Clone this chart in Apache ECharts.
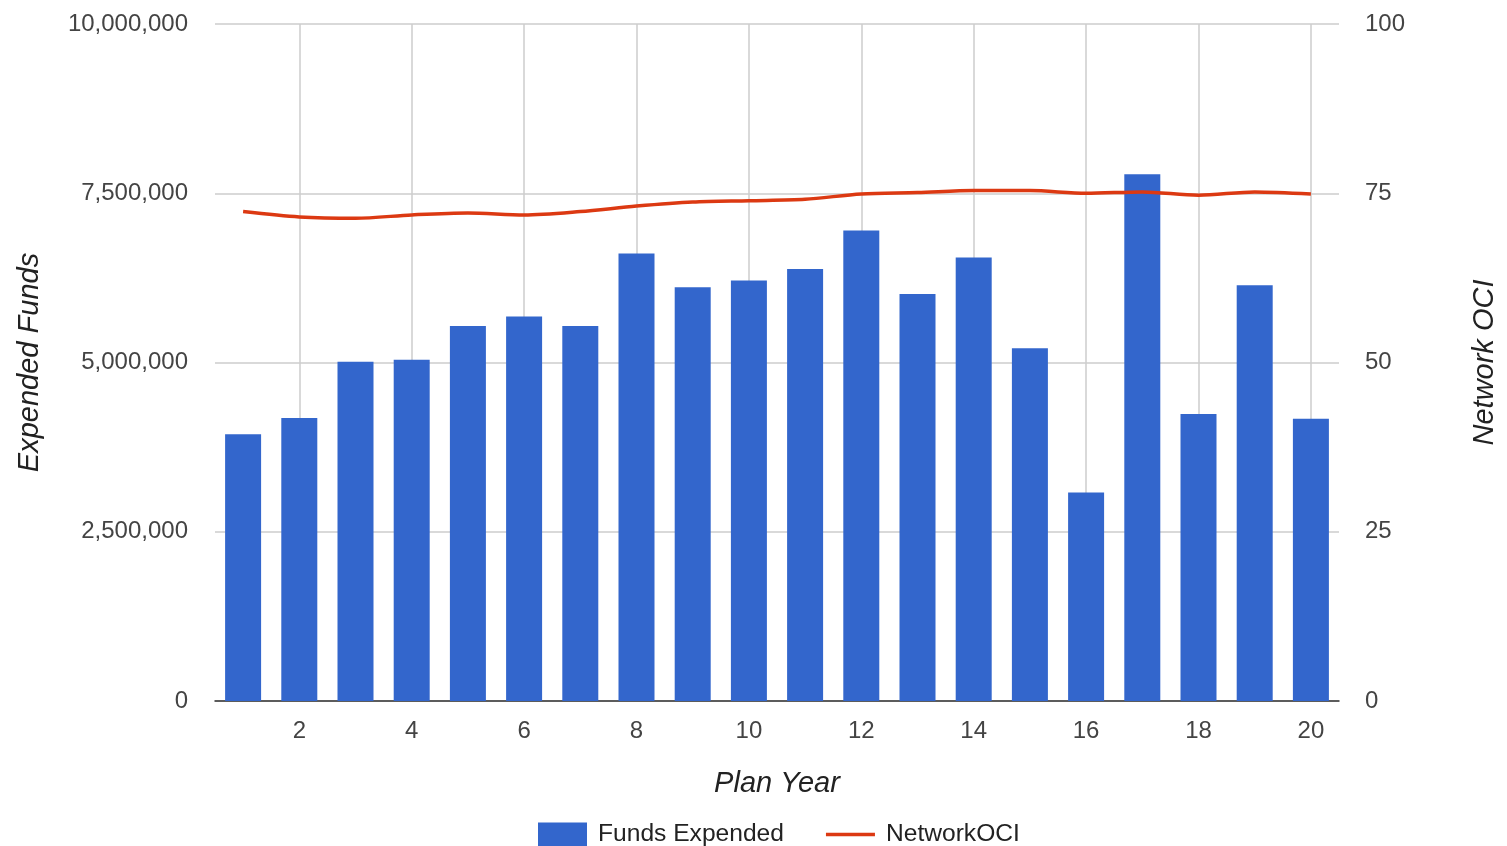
<!DOCTYPE html>
<html>
<head>
<meta charset="utf-8">
<title>Funds Expended and NetworkOCI by Plan Year</title>
<script src="https://cdn.jsdelivr.net/npm/echarts@6/dist/echarts.min.js"></script>
<style>
  html, body { margin: 0; padding: 0; background: #ffffff; overflow: hidden; }
  #chart { width: 1507px; height: 846px; }
</style>
</head>
<body>
<div id="chart"></div>
<script>
// Plan years (x positions of the bars and line points)
const planYears = [1, 2, 3, 4, 5, 6, 7, 8, 9, 10, 11, 12, 13, 14, 15, 16, 17, 18, 19, 20];

// Funds expended per plan year (left axis)
const fundsExpended = [
  3940000, 4180000, 5010000, 5040000, 5540000, 5680000, 5540000, 6610000, 6110000, 6210000,
  6380000, 6950000, 6010000, 6550000, 5210000, 3080000, 7780000, 4240000, 6140000, 4170000
];

// Network OCI per plan year (right axis)
const networkOCI = [
  72.3, 71.5, 71.3, 71.8, 72.1, 71.8, 72.3, 73.1, 73.7, 73.9,
  74.1, 74.9, 75.1, 75.4, 75.4, 75.0, 75.2, 74.7, 75.2, 74.9
];

// Tick values
const yearTicks = [2, 4, 6, 8, 10, 12, 14, 16, 18, 20];
const fundsTickStep = 2500000;
const fundsMax = 10000000;
const ociTickStep = 25;
const ociMax = 100;

const FONT = '"Liberation Sans", Arial, sans-serif';

const fundsPoints = planYears.map((y, i) => [y, fundsExpended[i]]);
const ociPoints = planYears.map((y, i) => [y, networkOCI[i]]);

const chart = echarts.init(document.getElementById('chart'), null, { renderer: 'canvas' });

chart.setOption({
  animation: false,
  backgroundColor: '#ffffff',
  textStyle: { fontFamily: FONT },
  grid: { left: 215, right: 162, top: 24, bottom: 145, containLabel: false },
  legend: {
    left: 538,
    top: 822,
    padding: 0,
    itemWidth: 49,
    itemHeight: 24,
    itemGap: 42,
    symbolKeepAspect: true,
    textStyle: { fontFamily: FONT, fontSize: 24.6, color: '#222222', padding: [0, 0, 0, 6] },
    data: [
      { name: 'Funds Expended', icon: 'rect' },
      { name: 'NetworkOCI', icon: 'path://M0,0L49,0L49,3.5L0,3.5Z' }
    ]
  },
  xAxis: {
    type: 'value',
    min: 0.5,
    max: 20.5,
    name: 'Plan Year',
    nameLocation: 'middle',
    nameGap: 68,
    nameTextStyle: { fontFamily: FONT, fontSize: 29, fontStyle: 'italic', color: '#222222' },
    axisLine: { show: true, onZero: false, lineStyle: { color: '#333333', width: 1.5 } },
    axisTick: { show: false, customValues: yearTicks },
    axisLabel: {
      customValues: yearTicks,
      fontFamily: FONT, fontSize: 24, color: '#444444', margin: 18
    },
    splitLine: { show: true, lineStyle: { color: '#cccccc', width: 1.5 } }
  },
  yAxis: [
    {
      type: 'value',
      min: 0,
      max: fundsMax,
      interval: fundsTickStep,
      name: 'Expended Funds',
      nameLocation: 'middle',
      nameRotate: 90,
      nameGap: 171,
      nameTextStyle: { fontFamily: FONT, fontSize: 29, fontStyle: 'italic', color: '#222222' },
      axisLine: { show: false },
      axisTick: { show: false },
      axisLabel: {
        fontFamily: FONT, fontSize: 24, color: '#444444', margin: 27,
        formatter: v => v.toLocaleString('en-US')
      },
      splitLine: { show: true, lineStyle: { color: '#cccccc', width: 1.5 } }
    },
    {
      type: 'value',
      min: 0,
      max: ociMax,
      interval: ociTickStep,
      position: 'right',
      name: 'Network OCI',
      nameLocation: 'middle',
      nameRotate: 90,
      nameGap: 131,
      nameTextStyle: { fontFamily: FONT, fontSize: 29, fontStyle: 'italic', color: '#222222' },
      axisLine: { show: false },
      axisTick: { show: false },
      axisLabel: { fontFamily: FONT, fontSize: 24, color: '#444444', margin: 26 },
      splitLine: { show: false }
    }
  ],
  series: [
    {
      name: 'Funds Expended',
      type: 'bar',
      yAxisIndex: 0,
      barWidth: 36,
      itemStyle: { color: '#3366cc' },
      data: fundsPoints
    },
    {
      name: 'NetworkOCI',
      type: 'line',
      yAxisIndex: 1,
      smooth: 0.3,
      symbol: 'none',
      lineStyle: { color: '#dc3912', width: 3.5 },
      itemStyle: { color: '#dc3912' },
      data: ociPoints
    }
  ]
});
</script>
</body>
</html>
